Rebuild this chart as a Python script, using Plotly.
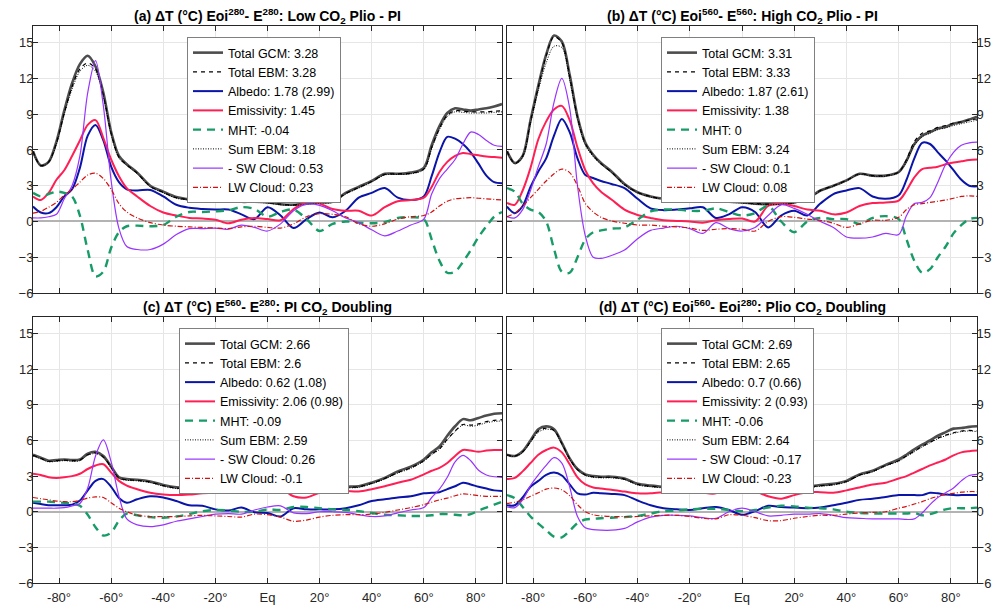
import plotly.graph_objects as go

# ---------------- data ----------------
LAT = [-90, -87, -84, -81, -78, -75, -72, -69, -66, -63, -60, -57, -54,
       -50, -45, -40, -35, -30, -25, -20, -15, -10, -5, 0, 5, 10, 15, 20, 25, 30, 35, 40, 45, 50, 55, 60,
       63, 66, 69, 72, 75, 78, 81, 84, 87, 90]

XTICK_VALS = [-80, -60, -40, -20, 0, 20, 40, 60, 80]
XTICK_TEXT = ["-80°", "-60°", "-40°", "-20°", "Eq", "20°", "40°", "60°", "80°"]
YTICK_VALS = [-6, -3, 0, 3, 6, 9, 12, 15]

SERIES_NAMES = ["Total GCM", "Total EBM", "Albedo", "Emissivity", "MHT", "Sum EBM", "- SW Cloud", "LW Cloud"]

# (a) Low CO2 Plio - PI
a_gcm = [5.9, 4.7, 5.0, 6.7, 9.3, 11.6, 13.2, 13.9, 13.0, 10.8, 7.5, 5.5, 4.8,
         4.1, 3.0, 2.5, 2.05, 1.85, 1.75, 1.7, 1.7, 1.65, 1.65, 1.6, 1.45, 1.4, 1.5, 1.6, 1.65, 2.4, 2.9, 3.4, 4.0, 4.0, 4.1, 4.5,
         6.4, 8.0, 9.1, 9.5, 9.4, 9.3, 9.4, 9.5, 9.65, 9.85]
a_ebm = [5.9, 4.7, 5.0, 6.6, 9.1, 11.3, 12.8, 13.3, 12.8, 10.6, 7.4, 5.4, 4.75,
         4.05, 2.95, 2.45, 2.0, 1.85, 1.75, 1.7, 1.7, 1.65, 1.65, 1.6, 1.45, 1.4, 1.5, 1.6, 1.65, 2.35, 2.85, 3.35, 3.95, 4.0, 4.05, 4.4,
         6.2, 7.8, 8.9, 9.3, 9.25, 9.2, 9.2, 9.2, 9.25, 9.3]
a_alb = [1.25, 0.75, 0.7, 1.2, 2.1, 2.7, 4.5, 7.2, 8.1, 6.8, 4.6, 3.3, 2.7,
         2.6, 2.65, 2.1, 1.4, 1.15, 1.05, 1.0, 1.0, 0.6, 0.2, 1.2, 0.5, -0.55, 0.2, 0.75, 0.35, 0.9, 2.0, 2.4, 2.8, 2.0, 1.8, 2.1,
         3.8, 5.8, 7.1, 6.95, 6.5, 5.8, 4.85, 3.85, 3.3, 3.2]
a_emi = [2.1, 1.8, 2.4, 3.5, 4.3, 5.5, 6.8, 8.1, 8.5, 7.0, 5.2, 3.8, 2.8,
         2.1, 1.3, 0.75, 0.5, 0.3, 0.25, 0.15, -0.15, 0.15, 0.3, 0.2, 0.1, 1.05, 1.6, 1.5, 1.05, 0.9, 0.9, 0.5, 1.2, 1.7, 1.8, 2.0,
         2.9, 4.15, 5.0, 5.5, 5.75, 5.65, 5.55, 5.45, 5.4, 5.35]
a_mht = [2.4, 2.1, 2.3, 2.5, 2.4, 2.1, 0.5, -2.4, -4.6, -4.2, -2.2, -0.9, -0.4,
         -0.35, -0.4, -0.3, 0.4, 0.8, 0.8, 0.85, 0.95, 1.2, 1.05, 0.4, 0.8, 1.0, 0.2, -0.8, -0.2, 0.0, -0.1, -0.15, -0.05, 0.3, 0.35, 0.2,
         -1.5, -3.3, -4.3, -4.2, -3.4, -2.4, -1.3, -0.4, 0.4, 0.8]
a_sum = [5.8, 4.65, 4.95, 6.5, 9.0, 11.1, 12.6, 13.1, 12.6, 10.5, 7.3, 5.3, 4.7,
         4.0, 2.9, 2.4, 1.95, 1.8, 1.7, 1.65, 1.65, 1.6, 1.6, 1.55, 1.4, 1.35, 1.45, 1.55, 1.6, 2.3, 2.8, 3.3, 3.9, 3.95, 4.0, 4.35,
         6.1, 7.7, 8.8, 9.2, 9.15, 9.1, 9.1, 9.1, 9.15, 9.2]
a_sw = [0.3, 0.3, 0.4, 0.6, 1.9, 3.0, 5.5, 10.8, 13.5, 9.7, 3.4, -0.6, -2.1,
        -2.35, -2.35, -1.9, -1.1, -0.6, -0.6, -0.55, -0.65, -0.3, -0.5, -0.8, -0.2, 0.9, 1.45, 1.35, 0.9, 0.3, -0.1, -0.7, -1.2, -0.8, -0.3, 0.2,
        2.3, 3.6, 4.4, 5.2, 6.5, 7.5, 7.3, 6.8, 6.4, 6.3]
a_lw = [0.7, 0.85, 1.2, 1.6, 2.2, 2.7, 3.3, 3.9, 4.05, 3.6, 2.7, 1.5, 0.8,
        0.3, -0.1, -0.3, -0.4, -0.45, -0.5, -0.55, -0.6, -0.45, -0.4, -0.5, -0.55, -0.2, 0.4, 0.65, 0.6, 0.4, -0.2, -0.4, -0.2, 0.2, 0.4, 0.5,
        0.8, 1.3, 1.7, 1.9, 1.95, 2.0, 1.95, 1.9, 1.85, 1.8]

# (b) High CO2 Plio - PI
b_gcm = [5.9, 4.9, 5.5, 8.5, 11.4, 14.0, 15.6, 15.1, 12.3, 8.8, 6.6, 5.6, 4.9,
         4.2, 3.15, 2.45, 2.1, 1.9, 1.8, 1.75, 1.75, 1.7, 1.65, 1.6, 1.5, 1.45, 1.5, 1.6, 1.9, 2.6, 3.0, 3.45, 4.0, 3.85, 3.85, 4.15,
         5.1, 6.5, 7.2, 7.5, 7.8, 7.95, 8.2, 8.35, 8.55, 8.8]
b_ebm = [5.9, 4.9, 5.5, 8.4, 11.3, 13.9, 15.5, 15.0, 12.2, 8.75, 6.55, 5.55, 4.85,
         4.15, 3.1, 2.45, 2.1, 1.9, 1.8, 1.75, 1.75, 1.7, 1.65, 1.6, 1.5, 1.45, 1.5, 1.6, 1.9, 2.6, 3.0, 3.45, 4.0, 3.85, 3.85, 4.15,
         5.2, 6.7, 7.4, 7.6, 7.9, 8.05, 8.25, 8.35, 8.5, 8.6]
b_alb = [1.25, 0.7, 1.3, 2.9, 4.2, 5.3, 7.2, 8.6, 7.5, 5.3, 3.9, 3.65, 3.4,
         3.15, 2.8, 1.9, 1.1, 0.95, 1.0, 1.1, 1.2, 0.3, 0.6, 1.2, 0.8, -0.5, 0.5, 0.9, 0.5, 1.5, 2.3, 2.6, 2.8, 2.1, 1.9, 2.2,
         3.5, 5.3, 6.6, 6.5, 5.8, 5.1, 4.3, 3.5, 3.0, 2.95]
b_emi = [1.55, 1.4, 2.6, 4.5, 6.9, 8.4, 9.4, 9.7, 8.5, 6.2, 4.3, 3.2, 2.5,
         1.85, 1.0, 0.55, 0.3, 0.1, 0.05, 0.0, -0.1, 0.1, 0.2, 0.25, 0.0, 1.3, 1.5, 1.3, 1.0, 0.9, 0.6, 0.75, 1.3, 1.55, 1.6, 1.75,
         2.6, 3.7, 4.4, 4.5, 4.6, 4.8, 4.95, 5.05, 5.15, 5.2]
b_mht = [2.8, 2.5, 1.5, 1.0, 0.8, 0.0, -2.3, -4.2, -4.3, -3.0, -1.5, -0.9, -0.75,
         -0.6, -0.5, 0.15, 0.85, 1.0, 1.0, 0.9, 0.9, 1.1, 0.8, 0.5, 0.7, 1.3, 0.0, -0.9, 0.0, 0.3, 0.2, 0.2, -0.2, 0.3, 0.45, 0.2,
         -1.5, -3.3, -4.3, -4.0, -3.0, -2.1, -1.0, -0.3, 0.2, 0.3]
b_sum = [5.8, 4.85, 5.4, 8.2, 11.0, 13.3, 14.7, 14.6, 11.9, 8.6, 6.4, 5.45, 4.8,
         4.1, 3.05, 2.4, 2.05, 1.85, 1.75, 1.7, 1.7, 1.65, 1.6, 1.55, 1.45, 1.4, 1.45, 1.55, 1.85, 2.55, 2.95, 3.4, 3.95, 3.8, 3.8, 4.1,
         5.0, 6.4, 7.1, 7.4, 7.7, 7.85, 8.05, 8.2, 8.35, 8.5]
b_sw = [0.4, 0.3, 1.0, 2.6, 4.6, 6.5, 10.0, 12.0, 9.5, 3.0, -1.2, -3.0, -3.1,
        -2.85, -2.4, -1.45, -0.75, -0.55, -0.4, -0.6, -1.0, -0.1, -0.6, -0.8, -0.5, 0.5, 1.4, 1.1, 0.6, 0.0, -0.5, -1.3, -1.4, -1.3, -1.0, -1.1,
        0.5, 1.5, 1.6, 2.0, 3.3, 4.8, 5.8, 6.4, 6.6, 6.65]
b_lw = [0.4, 0.7, 1.3, 2.0, 2.7, 3.4, 4.0, 4.4, 4.1, 3.0, 1.5, 0.8, 0.35,
        0.05, -0.15, -0.3, -0.3, -0.4, -0.45, -0.55, -0.75, -0.65, -0.6, -0.65, -0.8, 0.0, 0.4, 0.35, 0.2, 0.1, -0.15, -0.5, -0.2, 0.1, 0.1, 0.35,
        1.0, 1.4, 1.5, 1.6, 1.7, 1.8, 1.95, 2.1, 2.15, 2.1]

# (c) PI CO2 doubling
c_gcm = [4.8, 4.55, 4.3, 4.35, 4.4, 4.35, 4.4, 4.9, 5.05, 4.7, 3.8, 2.9, 2.75,
         2.7, 2.55, 2.25, 2.05, 2.0, 1.95, 1.9, 1.85, 1.85, 1.95, 1.95, 1.95, 1.85, 1.85, 1.95, 2.0, 2.1, 2.15, 2.45, 2.85, 3.4, 3.8, 4.4,
         5.0, 5.5, 6.4, 7.2, 7.8, 7.7, 7.9, 8.1, 8.25, 8.3]
c_ebm = [4.75, 4.5, 4.25, 4.3, 4.35, 4.3, 4.35, 4.8, 4.95, 4.6, 3.75, 2.85, 2.7,
         2.65, 2.5, 2.2, 2.0, 1.95, 1.9, 1.85, 1.8, 1.8, 1.9, 1.9, 1.9, 1.8, 1.8, 1.9, 1.95, 2.05, 2.1, 2.4, 2.8, 3.3, 3.7, 4.3,
         4.85, 5.3, 6.1, 6.8, 7.35, 7.3, 7.4, 7.6, 7.7, 7.75]
c_alb = [0.75, 0.65, 0.55, 0.55, 0.55, 0.6, 0.95, 1.8, 2.6, 2.75, 2.1, 1.15, 0.75,
         1.05, 1.3, 1.2, 0.9, 0.55, 0.5, 0.2, 0.1, 0.35, -0.05, -0.1, -0.4, 0.3, 0.2, 0.2, 0.2, 0.3, 0.55, 0.9, 1.05, 1.2, 1.3, 1.55,
         1.6, 1.65, 1.9, 2.15, 2.45, 2.3, 2.1, 1.95, 1.8, 1.75]
c_emi = [3.2, 3.1, 2.9, 2.85, 2.9, 3.0, 3.2, 3.6, 3.9, 4.0, 3.3, 2.6, 2.2,
         1.9, 1.6, 1.45, 1.4, 1.45, 1.55, 1.6, 1.6, 1.6, 2.0, 2.15, 2.0, 1.3, 1.2, 1.6, 1.75, 1.75, 1.7, 1.9, 2.15, 2.45, 2.7, 3.15,
         3.45, 3.7, 4.1, 4.7, 5.2, 5.15, 5.05, 5.15, 5.2, 5.2]
c_mht = [0.85, 0.85, 0.85, 0.8, 0.75, 0.7, 0.5, -0.25, -1.3, -2.0, -1.75, -0.75, -0.15,
         -0.3, -0.45, -0.5, -0.4, -0.2, 0.05, 0.15, 0.1, 0.0, 0.0, 0.2, 0.15, 0.4, 0.4, 0.3, 0.2, 0.15, 0.05, -0.1, -0.25, -0.3, -0.35, -0.35,
         -0.3, -0.2, -0.2, -0.25, -0.3, -0.2, 0.1, 0.35, 0.6, 0.85]
c_sum = [4.7, 4.45, 4.2, 4.25, 4.3, 4.25, 4.3, 4.75, 4.9, 4.55, 3.7, 2.8, 2.65,
         2.6, 2.45, 2.15, 1.95, 1.9, 1.85, 1.8, 1.75, 1.75, 1.85, 1.85, 1.85, 1.75, 1.75, 1.85, 1.9, 2.0, 2.05, 2.35, 2.75, 3.25, 3.65, 4.25,
         4.8, 5.25, 6.05, 6.75, 7.3, 7.2, 7.3, 7.5, 7.6, 7.65]
c_sw = [0.3, 0.3, 0.3, 0.3, 0.35, 0.5, 0.7, 2.0, 4.7, 6.05, 4.2, 1.3, -0.6,
        -1.1, -1.25, -1.1, -0.8, -0.6, -0.4, -0.2, -0.15, -0.2, 0.15, 0.4, 0.5, -0.1, -0.15, 0.0, 0.0, -0.05, -0.25, -0.4, -0.35, -0.1, 0.15, 0.35,
        1.2, 1.9, 2.9, 4.2, 4.75, 4.3, 3.5, 3.1, 2.95, 2.9]
c_lw = [1.2, 1.1, 1.0, 0.9, 0.85, 0.85, 0.95, 1.15, 1.25, 1.2, 0.75, 0.3, 0.0,
        -0.3, -0.4, -0.4, -0.4, -0.35, -0.3, -0.35, -0.4, -0.45, -0.2, -0.25, -0.45, -0.8, -0.7, -0.45, -0.3, -0.25, -0.25, -0.2, -0.05, 0.15, 0.35, 0.6,
        0.8, 1.0, 1.15, 1.35, 1.5, 1.45, 1.35, 1.3, 1.3, 1.3]

# (d) Plio CO2 doubling
d_gcm = [4.8, 4.7, 5.1, 6.0, 6.95, 7.2, 6.95, 5.8, 4.5, 3.6, 3.15, 3.0, 2.95,
         2.95, 2.8, 2.35, 2.2, 2.1, 2.0, 1.95, 1.95, 1.95, 1.95, 1.95, 1.95, 1.9, 1.9, 1.95, 2.1, 2.25, 2.35, 2.6, 3.15, 3.45, 3.95, 4.4,
         4.8, 5.25, 5.65, 6.0, 6.4, 6.7, 7.0, 7.05, 7.15, 7.2]
d_ebm = [4.8, 4.7, 5.05, 5.9, 6.8, 7.05, 6.85, 5.75, 4.45, 3.55, 3.1, 2.95, 2.9,
         2.9, 2.75, 2.3, 2.15, 2.05, 1.95, 1.9, 1.9, 1.9, 1.9, 1.9, 1.9, 1.85, 1.85, 1.9, 2.05, 2.2, 2.3, 2.55, 3.1, 3.4, 3.9, 4.3,
         4.7, 5.1, 5.5, 5.85, 6.2, 6.45, 6.65, 6.8, 6.85, 6.8]
d_alb = [0.55, 0.55, 1.2, 2.1, 2.6, 3.1, 3.3, 3.05, 2.3, 1.55, 1.45, 1.6, 1.55,
         1.5, 1.4, 0.95, 0.55, 0.3, 0.2, 0.15, 0.3, 0.4, 0.15, -0.25, 0.05, 0.5, 0.4, 0.35, 0.3, 0.35, 0.55, 0.75, 1.0, 1.1, 1.25, 1.4,
         1.4, 1.4, 1.4, 1.6, 1.55, 1.45, 1.4, 1.4, 1.4, 1.4]
d_emi = [2.75, 2.85, 3.4, 4.1, 4.8, 5.2, 5.4, 5.0, 4.0, 2.9, 2.3, 2.05, 1.95,
         1.85, 1.7, 1.55, 1.55, 1.65, 1.75, 1.75, 1.6, 1.55, 2.2, 2.1, 1.75, 1.3, 1.1, 1.4, 1.65, 1.65, 1.6, 1.8, 2.05, 2.3, 2.45, 2.8,
         3.0, 3.3, 3.6, 3.9, 4.15, 4.4, 4.75, 5.0, 5.1, 5.15]
d_mht = [1.4, 1.15, 0.4, -0.4, -1.0, -1.55, -2.1, -2.15, -1.6, -0.95, -0.65, -0.6, -0.55,
         -0.5, -0.45, -0.35, -0.15, 0.05, 0.1, 0.2, 0.25, 0.25, 0.15, 0.05, 0.15, 0.35, 0.5, 0.45, 0.35, 0.3, 0.2, 0.0, -0.1, -0.15, -0.15, -0.15,
         -0.15, -0.1, -0.3, -0.2, 0.0, 0.2, 0.3, 0.3, 0.3, 0.35]
d_sum = [4.75, 4.65, 5.0, 5.85, 6.7, 6.95, 6.8, 5.7, 4.4, 3.5, 3.05, 2.9, 2.85,
         2.85, 2.7, 2.25, 2.1, 2.0, 1.9, 1.85, 1.85, 1.85, 1.85, 1.85, 1.85, 1.8, 1.8, 1.85, 2.0, 2.15, 2.25, 2.5, 3.05, 3.35, 3.85, 4.25,
         4.65, 5.05, 5.45, 5.8, 6.15, 6.4, 6.6, 6.75, 6.8, 6.75]
d_sw = [0.4, 0.35, 1.0, 2.2, 3.1, 3.9, 4.55, 4.1, 2.1, -0.4, -1.35, -1.5, -1.55,
        -1.55, -1.4, -0.85, -0.45, -0.3, -0.3, -0.35, -0.5, -0.55, 0.0, 0.3, 0.0, -0.35, -0.3, -0.2, -0.2, -0.15, -0.3, -0.5, -0.55, -0.6, -0.6, -0.6,
        -0.65, -0.6, -0.1, 0.6, 1.2, 1.6, 2.0, 2.6, 3.05, 3.15]
d_lw = [0.7, 0.8, 1.0, 1.3, 1.6, 1.9, 2.0, 1.85, 1.35, 0.6, 0.0, -0.25, -0.35,
        -0.4, -0.4, -0.4, -0.35, -0.3, -0.3, -0.4, -0.55, -0.6, -0.25, -0.3, -0.5, -0.75, -0.75, -0.55, -0.4, -0.3, -0.3, -0.2, -0.1, -0.05, 0.0, 0.3,
        0.45, 0.65, 0.85, 1.1, 1.3, 1.45, 1.55, 1.65, 1.7, 1.7]

LABELS_A = ["3.28", "3.28", "1.78 (2.99)", "1.45", "-0.04", "3.18", "0.53", "0.23"]
LABELS_B = ["3.31", "3.33", "1.87 (2.61)", "1.38", "0", "3.24", "0.1", "0.08"]
LABELS_C = ["2.66", "2.6", "0.62 (1.08)", "2.06 (0.98)", "-0.09", "2.59", "0.26", "-0.1"]
LABELS_D = ["2.69", "2.65", "0.7 (0.66)", "2 (0.93)", "-0.06", "2.64", "-0.17", "-0.23"]

TITLES = [
    "<b>(a) ΔT (°C) Eoi<sup>280</sup>- E<sup>280</sup>: Low CO<sub>2</sub> Plio - PI</b>",
    "<b>(b) ΔT (°C) Eoi<sup>560</sup>- E<sup>560</sup>: High CO<sub>2</sub> Plio - PI</b>",
    "<b>(c) ΔT (°C) E<sup>560</sup>- E<sup>280</sup>: PI CO<sub>2</sub> Doubling</b>",
    "<b>(d) ΔT (°C) Eoi<sup>560</sup>- Eoi<sup>280</sup>: Plio CO<sub>2</sub> Doubling</b>",
]

# ---------------- styles ----------------
STYLES = [
    dict(color="#4d4d4d", width=2.6, dash="solid"),
    dict(color="#000000", width=1.2, dash="4px,4px"),
    dict(color="#0a14a8", width=2.0, dash="solid"),
    dict(color="#ff1f55", width=2.0, dash="solid"),
    dict(color="#179c68", width=2.4, dash="8px,6px"),
    dict(color="#000000", width=1.0, dash="1px,1.5px"),
    dict(color="#9933ff", width=1.2, dash="solid"),
    dict(color="#d41010", width=1.2, dash="5px,2px,1px,2px"),
]

FONT = "Liberation Sans, Arial, Helvetica, sans-serif"

panels = [
    ([a_gcm, a_ebm, a_alb, a_emi, a_mht, a_sum, a_sw, a_lw], LABELS_A, "x", "y", "legend"),
    ([b_gcm, b_ebm, b_alb, b_emi, b_mht, b_sum, b_sw, b_lw], LABELS_B, "x2", "y2", "legend2"),
    ([c_gcm, c_ebm, c_alb, c_emi, c_mht, c_sum, c_sw, c_lw], LABELS_C, "x3", "y3", "legend3"),
    ([d_gcm, d_ebm, d_alb, d_emi, d_mht, d_sum, d_sw, d_lw], LABELS_D, "x4", "y4", "legend4"),
]

fig = go.Figure()
for series, labels, xa, ya, leg in panels:
    for name, vals, lab, st in zip(SERIES_NAMES, series, labels, STYLES):
        fig.add_trace(go.Scatter(
            x=LAT, y=vals, mode="lines", name=f"{name}: {lab}",
            line=dict(color=st["color"], width=st["width"], dash=st["dash"], shape="spline", smoothing=0.9),
            xaxis=xa, yaxis=ya, legend=leg, hoverinfo="skip",
        ))

FIG_W, FIG_H = 998, 606
L, R, T, B = 33, 21, 26, 23
W, H = FIG_W - L - R, FIG_H - T - B
xdom_left = [0, 469 / W]
xdom_right = [474 / W, 1]
ydom_top = [(583 - 293) / H, 1]
ydom_bot = [0, (583 - 317) / H]

axis_common = dict(showline=True, linecolor="#262626", linewidth=1, mirror="ticks",
                   ticks="inside", ticklen=5, tickcolor="#262626", automargin=False,
                   showgrid=True, gridcolor="#e6e6e6", gridwidth=1,
                   tickfont=dict(family=FONT, size=13, color="#262626"))

def xaxis(dom, anchor, labels):
    return dict(axis_common, domain=dom, anchor=anchor, range=[-90, 90],
                tickvals=XTICK_VALS, ticktext=XTICK_TEXT, showticklabels=labels, zeroline=False,
                ticklabelstandoff=2)

def yaxis(dom, anchor, side):
    return dict(axis_common, domain=dom, anchor=anchor, range=[-6, 16.4], side=side,
                tickvals=YTICK_VALS, zeroline=True, zerolinecolor="#b3b3b3", zerolinewidth=2,
                ticklabelstandoff=-4)

def legend(x, y):
    return dict(x=x, y=y, xanchor="left", yanchor="top", xref="paper", yref="paper",
                bgcolor="white", bordercolor="#808080", borderwidth=1,
                font=dict(family=FONT, size=12.5, color="#000000"), tracegroupgap=0)

annotations = []
for t, xr, yr in zip(TITLES, ["x", "x2", "x3", "x4"], ["y", "y2", "y3", "y4"]):
    annotations.append(dict(text=t, xref=f"{xr} domain", yref=f"{yr} domain", x=0.5, y=1,
                            xanchor="center", yanchor="bottom", yshift=-2, showarrow=False,
                            font=dict(family=FONT, size=14, color="#000000")))

fig.update_layout(
    width=FIG_W, height=FIG_H,
    margin=dict(l=L, r=R, t=T, b=B),
    paper_bgcolor="white", plot_bgcolor="white",
    font=dict(family=FONT, size=13, color="#262626"),
    xaxis=xaxis(xdom_left, "y", False),
    yaxis=yaxis(ydom_top, "x", "left"),
    xaxis2=xaxis(xdom_right, "y2", False),
    yaxis2=yaxis(ydom_top, "x2", "right"),
    xaxis3=xaxis(xdom_left, "y3", True),
    yaxis3=yaxis(ydom_bot, "x3", "left"),
    xaxis4=xaxis(xdom_right, "y4", True),
    yaxis4=yaxis(ydom_bot, "x4", "right"),
    legend=legend((187 - L) / W, (583 - 37) / H),
    legend2=legend((661 - L) / W, (583 - 37) / H),
    legend3=legend((179 - L) / W, (583 - 328) / H),
    legend4=legend((661 - L) / W, (583 - 328) / H),
    annotations=annotations,
    showlegend=True,
    hovermode=False,
)

# remove the browser's default 8px page margin so the figure fills the window exactly
fig.write_html("out.html", config={"displayModeBar": False},
               post_script="document.body.style.margin='0';")
